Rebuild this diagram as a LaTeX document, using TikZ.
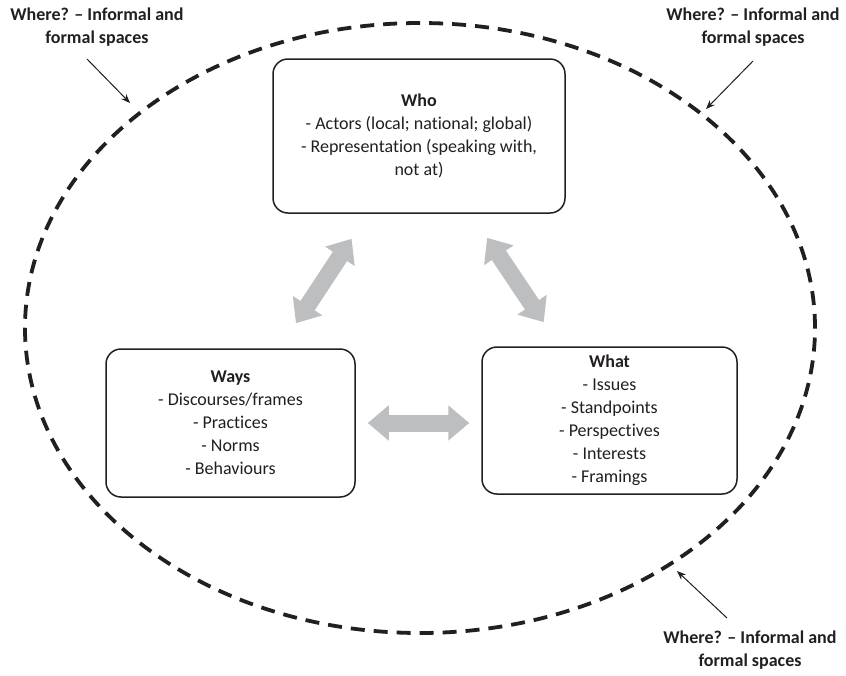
\documentclass[tikz,border=0pt]{standalone}
\usepackage{fontspec}
\setmainfont{Carlito}[RawFeature={-liga;-clig;-calt;-dlig}]
\usetikzlibrary{arrows.meta}
\definecolor{ink}{HTML}{231F20}
\definecolor{arrgray}{HTML}{BCBEC0}
\begin{document}
\begin{tikzpicture}[x=1pt,y=-1pt,
  every node/.style={font=\fontsize{18}{23}\selectfont, text=ink},
  box/.style={draw=ink, line width=1.5pt, rounded corners=15pt, align=center, inner sep=0pt},
  lbl/.style={align=center, font=\fontsize{18}{22.5}\selectfont\bfseries, inner sep=0pt},
  grayarr/.style={draw=arrgray, line width=17pt, {Triangle[length=21pt,width=34pt]}-{Triangle[length=21pt,width=34pt]}},
  thinarr/.style={draw=ink, line width=1pt, -{Stealth[length=9pt,width=7pt]}},
  boundary/.style={draw=ink, line width=3.8pt, dash pattern=on 14pt off 9pt}
]
\useasboundingbox (0,0) rectangle (846,675);
\fill[white] (0,0) rectangle (846,675);

% outer dashed boundary
\draw[boundary] (420,328) ellipse [x radius=395pt, y radius=305pt];

% boxes
\node[box, minimum width=292pt, minimum height=154pt] (who) at (419,136)
  {\textbf{Who}\\- Actors (local; national; global)\\- Representation (speaking with,\\not at)};
\node[box, minimum width=249pt, minimum height=148pt] (ways) at (230.5,423)
  {\textbf{Ways}\\- Discourses/frames\\- Practices\\- Norms\\- Behaviours};
\node[box, minimum width=255pt, minimum height=147pt] (what) at (609.5,420.5)
  {\textbf{What}\\- Issues\\- Standpoints\\- Perspectives\\- Interests\\- Framings};

% gray double arrows
\draw[grayarr, shorten <=30pt, shorten >=30pt] (who) -- (ways);
\draw[grayarr, shorten <=29pt, shorten >=29pt] (who) -- (what);
\draw[grayarr, shorten <=12pt, shorten >=12pt] (ways.east) -- (ways.east -| what.west);

% labels
\node[lbl] (wtl) at (97,27) {Where? – Informal and\\formal spaces};
\node[lbl] (wtr) at (753,27) {Where? – Informal and\\formal spaces};
\node[lbl] (wbr) at (750,650) {Where? – Informal and\\formal spaces};

\coordinate (stl) at (87,59);
\coordinate (etl) at (130,103);
\coordinate (str) at (753,61);
\coordinate (etr) at (706,109);
\coordinate (sbr) at (727,618);
\coordinate (ebr) at (677,571);
\draw[thinarr] (stl) -- (etl);
\draw[thinarr] (str) -- (etr);
\draw[thinarr] (sbr) -- (ebr);
\end{tikzpicture}
\end{document}
